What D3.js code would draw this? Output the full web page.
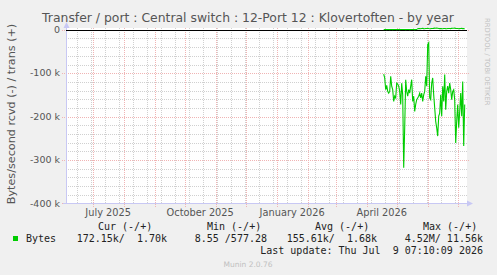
<!DOCTYPE html>
<html lang="en">
<head>
<meta charset="UTF-8">
<title>Transfer / port - by year</title>
<style>
    body { margin: 0; background: #f0f0f0; }
    svg { display: block; }
    text { font-family: "DejaVu Sans", sans-serif; }
    .mono { font-family: "DejaVu Sans Mono", monospace; font-size: 10px; fill: #222; white-space: pre; }
</style>
</head>
<body>
<svg width="497" height="275"></svg>
<script src="https://cdnjs.cloudflare.com/ajax/libs/d3/7.8.5/d3.min.js"></script>
<script>

// daily averages, bytes/second, starting 2026-04-18
var firstDay = "2026-04-18";
var rcvd = [
    -102, -111, -138, -128, -142, -146, -142, -107, -130, -138,
    -165, -153, -157, -123, -125, -130, -142, -172, -123, -150,
    -318, -226, -115, -142, -153, -138, -146, -130, -115, -165,
    -153, -188, -172, -161, -157, -153, -146, -157, -146, -165,
    -150, -142, -107, -130, -34, -30, -157, -161, -123, -111,
    -150, -180, -211, -226, -245, -199, -192, -150, -199, -130,
    -165, -103, -184, -142, -130, -146, -123, -138, -161, -142,
    -138, -161, -261, -211, -172, -226, -188, -146, -199, -119,
    -268, -172
].map(function(v) { return v * 1000; });
var trans = [
    0.5, 0.6, 0.7, 0.5, 0.6, 0.7, 0.5, 0.6, 0.7, 0.5,
    0.6, 0.7, 0.6, 0.5, 0.7, 0.6, 0.5, 0.6, 0.7, 0.6,
    0.7, 0.6, 0.5, 0.7, 0.6, 0.6, 0.5, 0.7, 0.6, 0.7,
    0.6, 0.5, 0.7, 0.6, 2.6, 3.1, 2.8, 2.4, 3.0, 3.3,
    2.7, 2.5, 2.9, 3.2, 3.6, 3.0, 2.6, 2.8, 3.1, 2.9,
    3.4, 3.8, 3.5, 3.9, 3.6, 3.2, 2.8, 3.0, 2.7, 2.5,
    2.9, 3.1, 2.8, 2.6, 3.0, 3.2, 2.9, 2.7, 3.4, 3.7,
    3.5, 3.8, 3.3, 2.9, 3.1, 2.6, 2.8, 3.0, 3.3, 2.7,
    2.9, 1.7
].map(function(v) { return v * 1000; });

var yTicks = [0, -100000, -200000, -300000, -400000];
var legendHead = ["Cur (-/+)", "Min (-/+)", "Avg (-/+)", "Max (-/+)"];
var legendVals = ["172.15k/  1.70k", "8.55 /577.28", "155.61k/  1.68k", "4.52M/ 11.56k"];
var lastUpdate = "Last update: Thu Jul  9 07:10:09 2026";

var end = new Date(2026, 6, 9, 7, 10, 9),
    start = d3.timeDay.offset(end, -400);

var svg = d3.select("svg");

var x = d3.scaleTime().domain([start, end]).range([66, 466]);
var y = d3.scaleLinear().domain([-400000, 3500]).range([203.3, 28.3]);

var day0 = d3.timeParse("%Y-%m-%d")(firstDay);
var series = rcvd.map(function(v, i) {
    return {date: d3.timeDay.offset(day0, i), rcvd: v, trans: trans[i]};
});

// plot background
svg.append("rect")
    .attr("x", 66).attr("y", 28)
    .attr("width", 401).attr("height", 176)
    .attr("fill", "#fff");

var grid = svg.append("g");

// minor grid
var minorY = d3.range(-400000, 1, 20000).filter(function(v) { return v % 100000 != 0; });
grid.selectAll(".hmin").data(minorY).enter().append("line")
    .attr("x1", 66).attr("x2", 467)
    .attr("y1", function(d) { return Math.round(y(d)) + 0.5; })
    .attr("y2", function(d) { return Math.round(y(d)) + 0.5; })
    .attr("stroke", "#d0d0d0").attr("stroke-dasharray", "1,1");

var biweekly = d3.range(0, 30).map(function(i) {
    return d3.timeDay.offset(new Date(2025, 5, 15), 14 * i);
}).filter(function(d) { return d > start && d < end; });
grid.selectAll(".vmin").data(biweekly).enter().append("line")
    .attr("x1", function(d) { return Math.round(x(d)) + 0.5; })
    .attr("x2", function(d) { return Math.round(x(d)) + 0.5; })
    .attr("y1", 28).attr("y2", 203)
    .attr("stroke", "#d0d0d0").attr("stroke-dasharray", "1,1");

// major grid
grid.selectAll(".hmaj").data(yTicks).enter().append("line")
    .attr("x1", 62).attr("x2", 469)
    .attr("y1", function(d) { return Math.round(y(d)) + 0.5; })
    .attr("y2", function(d) { return Math.round(y(d)) + 0.5; })
    .attr("stroke", "#f0b4b4").attr("stroke-dasharray", "1,1");

var months = d3.timeMonth.range(start, end);
grid.selectAll(".vmaj").data(months).enter().append("line")
    .attr("x1", function(d) { return Math.round(x(d)) + 0.5; })
    .attr("x2", function(d) { return Math.round(x(d)) + 0.5; })
    .attr("y1", 28).attr("y2", 207)
    .attr("stroke", "#f0b4b4").attr("stroke-dasharray", "1,1");

// axes
var axisCol = "#c8c8f4";
svg.append("line").attr("x1", 66.5).attr("x2", 66.5).attr("y1", 27).attr("y2", 204)
    .attr("stroke", axisCol);
svg.append("path").attr("d", "M63.5,28L66.5,22L69.5,28Z").attr("fill", axisCol);
svg.append("line").attr("x1", 63).attr("x2", 468).attr("y1", 203.5).attr("y2", 203.5)
    .attr("stroke", axisCol);
svg.append("path").attr("d", "M467,200.5L473,203.5L467,206.5Z").attr("fill", axisCol);

// zero line
svg.append("line").attr("x1", 66).attr("x2", 467)
    .attr("y1", Math.round(y(0)) + 0.5).attr("y2", Math.round(y(0)) + 0.5)
    .attr("stroke", "#000");

// data
var lineR = d3.line()
    .x(function(d) { return x(d.date); })
    .y(function(d) { return y(d.rcvd); });
var lineT = d3.line()
    .x(function(d) { return x(d.date); })
    .y(function(d) { return y(d.trans); });

svg.append("path").datum(series).attr("d", lineR)
    .attr("fill", "none").attr("stroke", "#00cc00").attr("stroke-width", 1.1);
svg.append("path").datum(series).attr("d", lineT)
    .attr("fill", "none").attr("stroke", "#00cc00").attr("stroke-width", 1.1);

// y tick labels
svg.selectAll(".ylab").data(yTicks).enter().append("text")
    .attr("x", 60)
    .attr("y", function(d) { return y(d) + 3.3; })
    .attr("text-anchor", "end")
    .attr("font-size", 9.5).attr("fill", "#555")
    .text(function(d) { return d == 0 ? "0" : (d / 1000) + " k"; });

// x labels, centred over their month (only whole months inside the graph)
var quarters = d3.timeMonth.every(3).range(start, end)
    .filter(function(d) { return d3.timeMonth.offset(d, 1) <= end; });
svg.selectAll(".xlab").data(quarters).enter().append("text")
    .attr("x", function(d) { return (x(d) + x(d3.timeMonth.offset(d, 1))) / 2; })
    .attr("y", 216)
    .attr("text-anchor", "middle")
    .attr("font-size", 9.8).attr("fill", "#555")
    .text(d3.timeFormat("%B %Y"));

// title
svg.append("text")
    .attr("x", 248).attr("y", 21.5)
    .attr("text-anchor", "middle")
    .attr("font-size", 12.4).attr("fill", "#555")
    .text("Transfer / port : Central switch : 12-Port 12 : Klovertoften - by year");

// y axis label
svg.append("text")
    .attr("transform", "translate(15,114) rotate(-90)")
    .attr("text-anchor", "middle")
    .attr("font-size", 11.2).attr("fill", "#555")
    .text("Bytes/second rcvd (-) / trans (+)");

// watermark
svg.append("text")
    .attr("transform", "translate(485,18) rotate(90)")
    .attr("font-size", 6.8).attr("fill", "#c0c0c0")
    .text("RRDTOOL / TOBI OETIKER");

// legend
var headX = [98, 207, 315, 423];
var valEnd = [167, 267, 377, 483];
svg.selectAll(".lhead").data(legendHead).enter().append("text")
    .attr("class", "mono")
    .attr("x", function(d, i) { return headX[i]; })
    .attr("y", 230)
    .text(function(d) { return d; });

svg.append("rect").attr("x", 13).attr("y", 236).attr("width", 5).attr("height", 5)
    .attr("fill", "#00cc00");
svg.append("text").attr("class", "mono").attr("x", 26).attr("y", 242).text("Bytes");
svg.selectAll(".lval").data(legendVals).enter().append("text")
    .attr("class", "mono")
    .attr("x", function(d, i) { return valEnd[i]; })
    .attr("y", 242)
    .attr("text-anchor", "end")
    .text(function(d) { return d; });

svg.append("text").attr("class", "mono")
    .attr("x", 483).attr("y", 254).attr("text-anchor", "end")
    .text(lastUpdate);

svg.append("text")
    .attr("x", 248).attr("y", 267)
    .attr("text-anchor", "middle")
    .attr("font-size", 7.5).attr("fill", "#c0c0c0")
    .text("Munin 2.0.76");

</script>
</body>
</html>
